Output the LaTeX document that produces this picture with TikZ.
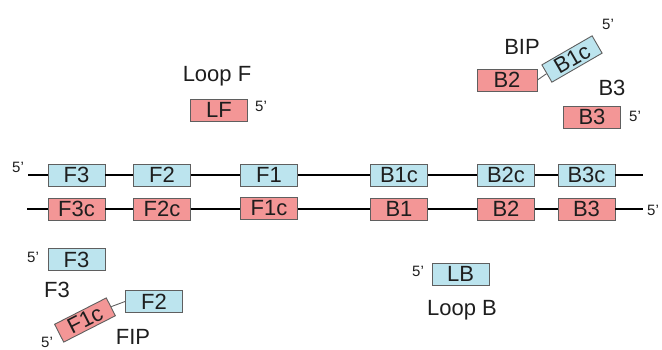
\documentclass[tikz,border=0pt]{standalone}
\usepackage{fontspec}
\setmainfont{Liberation Sans}
\definecolor{boxblue}{RGB}{188,228,238}
\definecolor{boxred}{RGB}{243,150,150}
\definecolor{boxline}{RGB}{95,95,95}
\definecolor{txt}{RGB}{30,30,30}
\begin{document}
\begin{tikzpicture}[x=1pt,y=-1pt,
  seg/.style={draw=boxline,line width=0.9pt,minimum width=57pt,minimum height=22pt,inner sep=0pt,
    font=\fontsize{22}{24}\selectfont,text=txt},
  bseg/.style={seg,fill=boxblue},
  rseg/.style={seg,fill=boxred},
  lbl/.style={font=\fontsize{22}{24}\selectfont,text=txt,inner sep=0pt},
  prime/.style={font=\fontsize{15}{17}\selectfont,text=txt,inner sep=0pt},
  strand/.style={line width=2.6pt,black},
  link/.style={draw=boxline,line width=0.9pt}]
\useasboundingbox (0,0) rectangle (662,349);
% top strand
\coordinate (ts) at (28,175);
\coordinate (te) at (643,175);
\node[bseg] (tF3) at (76.5,175) {F3};
\node[bseg] (tF2) at (162,175) {F2};
\node[bseg] (tF1) at (269,175) {F1};
\node[bseg] (tB1c) at (399,175) {B1c};
\node[bseg] (tB2c) at (506,175) {B2c};
\node[bseg] (tB3c) at (586.5,175) {B3c};
\draw[strand] (ts) -- (tF3) (tF3) -- (tF2) (tF2) -- (tF1) (tF1) -- (tB1c) (tB1c) -- (tB2c) (tB2c) -- (tB3c) (tB3c) -- (te);
\node[prime] (p1) at (18,167) {5'};
% bottom strand
\coordinate (bs) at (27,209);
\coordinate (be) at (643,209);
\node[rseg] (bF3c) at (76.5,209) {F3c};
\node[rseg] (bF2c) at (162,209) {F2c};
\node[rseg] (bF1c) at (269,208) {F1c};
\node[rseg] (bB1) at (399,209) {B1};
\node[rseg] (bB2) at (506,209) {B2};
\node[rseg] (bB3) at (586.5,209) {B3};
\draw[strand] (bs) -- (bF3c) (bF3c) -- (bF2c) (bF2c) -- (bF1c.west |- bs) (bF1c.east |- bs) -- (bB1) (bB1) -- (bB2) (bB2) -- (bB3) (bB3) -- (be);
\node[prime] (p2) at (653,210) {5'};
% Loop F
\node[lbl] (loopF) at (217,76) {Loop F};
\node[rseg] (LF) at (219,110) {LF};
\node[prime] (p3) at (261,106) {5'};
% BIP
\node[lbl] (bip) at (522,47) {BIP};
\node[rseg,minimum width=60pt] (bipB2) at (507,80) {B2};
\node[bseg,rotate=30,minimum width=58pt,minimum height=20pt] (bipB1c) at (572,59) {B1c};
\draw[link] (bipB2.east) -- (bipB1c.west);
\node[prime] (p4) at (608,24) {5'};
% B3
\node[lbl] (b3l) at (612,88) {B3};
\node[rseg] (B3p) at (592,117) {B3};
\node[prime] (p5) at (635,116) {5'};
% F3 primer
\node[prime] (p6) at (33,257) {5'};
\node[bseg] (F3p) at (76.5,259.5) {F3};
\node[lbl] (f3l) at (57,290) {F3};
% FIP
\node[bseg] (fipF2) at (154,301.5) {F2};
\node[rseg,rotate=27,minimum width=58pt,minimum height=20pt] (fipF1c) at (85,320) {F1c};
\draw[link] (fipF1c.east) -- (fipF2.west);
\node[prime] (p7) at (47,342) {5'};
\node[lbl] (fip) at (133,337) {FIP};
% Loop B
\node[prime] (p8) at (418,271) {5'};
\node[bseg] (LB) at (460.5,274) {LB};
\node[lbl] (loopB) at (462,310) {Loop B};
\end{tikzpicture}
\end{document}
